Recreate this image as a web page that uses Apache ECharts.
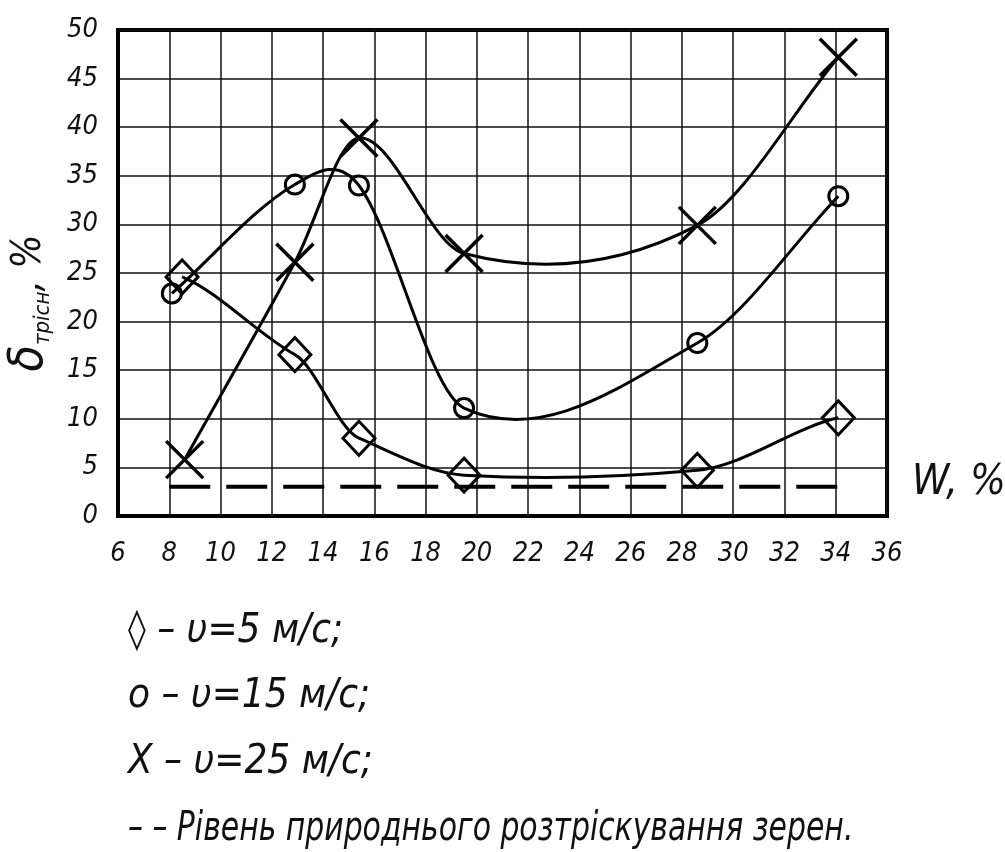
<!DOCTYPE html>
<html><head><meta charset="utf-8">
<script src="https://cdn.jsdelivr.net/npm/echarts@6/dist/echarts.min.js"></script>
<style>html,body{margin:0;padding:0;background:#fff}#c{width:1005px;height:852px}</style>
</head><body><div id="c"></div>
<script>
const FONT = "'DejaVu Sans Condensed','Liberation Sans Narrow','DejaVu Sans',sans-serif";
const xRange = [6, 36];
const xStep = 2;
const yRange = [0, 50];
const yStep = 5;
// v = 5 m/s (diamonds)
const v5W = [8.5, 12.9, 15.4, 19.5, 28.6, 34.1];
const v5D = [24.6, 16.6, 8.0, 4.2, 4.7, 10.1];
// v = 15 m/s (circles)
const v15W = [8.1, 12.9, 15.4, 19.5, 28.6, 34.1];
const v15D = [22.9, 34.1, 34.0, 11.1, 17.8, 32.9];
// v = 25 m/s (crosses)
const v25W = [8.6, 12.9, 15.4, 19.5, 28.6, 34.1];
const v25D = [5.8, 26.1, 38.9, 27.0, 29.9, 47.2];
// natural cracking level (dashed)
const natW = [8.0, 34.2];
const natD = [3, 3];
const legendLines = ['◊ – υ=5 м/с;', 'о – υ=15 м/с;', 'Х – υ=25 м/с;', '– – Рівень природнього розтріскування зерен.'];
const xAxisTitle = 'W, %';
const yAxisTitle = '{d|δ}{s|трісн}{c|, %}';

const pairs = (xs, ys) => xs.map((x, i) => [x, ys[i]]);
const chart = echarts.init(document.getElementById('c'), null, {renderer: 'canvas'});

// smooth curve through the data points (rendered from pixel coords given by the axes)
function curveSeries(xs, ys, tension) {
  const data = pairs(xs, ys);
  return {
    type: 'custom', animation: false, silent: true, z: 3,
    data: data, encode: {x: 0, y: 1},
    renderItem: function (params, api) {
      if (params.dataIndex !== 0) return null;
      const P = data.map(d => api.coord(d));
      const n = P.length;
      const slope = (i) => {
        const a = P[Math.max(0, i - 1)], b = P[Math.min(n - 1, i + 1)];
        return (b[1] - a[1]) / (b[0] - a[0]);
      };
      let d = 'M' + P[0][0] + ',' + P[0][1];
      for (let i = 0; i < n - 1; i++) {
        const h = P[i + 1][0] - P[i][0];
        const m0 = slope(i) * tension, m1 = slope(i + 1) * tension;
        const c1 = [P[i][0] + h / 3, P[i][1] + m0 * h / 3];
        const c2 = [P[i + 1][0] - h / 3, P[i + 1][1] - m1 * h / 3];
        d += ' C' + c1[0] + ',' + c1[1] + ' ' + c2[0] + ',' + c2[1] + ' ' + P[i + 1][0] + ',' + P[i + 1][1];
      }
      return {type: 'path', shape: {pathData: d}, style: {stroke: '#000', lineWidth: 3, fill: null}};
    }
  };
}
function markerSeries(xs, ys, symbol, size, bw) {
  return {
    type: 'scatter', animation: false, silent: true, z: 4,
    data: pairs(xs, ys), symbol: symbol, symbolSize: size,
    itemStyle: {color: 'rgba(0,0,0,0)', borderColor: '#000', borderWidth: bw, opacity: 1}
  };
}
const legendY = [632, 697, 763, 830];
const legendScale = [1, 1, 1, 0.83];
const txt = {fontFamily: FONT, fontStyle: 'italic', fill: '#111'};

chart.setOption({
  backgroundColor: '#fff',
  animation: false,
  grid: {left: 118, right: 118, top: 30, bottom: 336, show: true, borderColor: '#000', borderWidth: 4, containLabel: false},
  xAxis: {
    type: 'value', min: xRange[0], max: xRange[1], interval: xStep,
    axisLine: {show: true, onZero: false, lineStyle: {color: '#000', width: 4}},
    axisTick: {show: false},
    splitLine: {show: true, lineStyle: {color: '#111', width: 1.5}},
    axisLabel: {margin: 24, color: '#111', fontFamily: FONT, fontStyle: 'italic', fontSize: 27}
  },
  yAxis: {
    type: 'value', min: yRange[0], max: yRange[1], interval: yStep,
    axisLine: {show: true, lineStyle: {color: '#000', width: 4}},
    axisTick: {show: false},
    splitLine: {show: true, lineStyle: {color: '#111', width: 1.5}},
    axisLabel: {margin: 20, color: '#111', fontFamily: FONT, fontStyle: 'italic', fontSize: 27}
  },
  series: [
    curveSeries(v5W, v5D, 0.6),
    curveSeries(v15W, v15D, 1.0),
    curveSeries(v25W, v25D, 1.0),
    markerSeries(v5W, v5D, 'diamond', [32, 34], 3),
    markerSeries(v15W, v15D, 'circle', 19, 3),
    markerSeries(v25W, v25D, 'path://M0,0L20,20M20,0L0,20', 37, 3.5),
    {type: 'line', data: pairs(natW, natD), smooth: false, showSymbol: false, symbol: 'none', animation: false, silent: true,
     lineStyle: {color: '#000', width: 4, type: [41, 16]}, z: 2}
  ],
  graphic: [
    {type: 'text', x: 912, y: 483, style: Object.assign({text: xAxisTitle, fontSize: 42, verticalAlign: 'middle', align: 'left'}, txt)},
    {type: 'text', x: 30, y: 303, rotation: Math.PI / 2,
     style: Object.assign({text: yAxisTitle, align: 'center', verticalAlign: 'middle',
       rich: {
         d: {fontSize: 48, fontFamily: FONT, fontStyle: 'italic', fill: '#111'},
         s: {fontSize: 22, fontFamily: FONT, fontStyle: 'italic', fill: '#111', verticalAlign: 'bottom', padding: [16, 0, 0, 0]},
         c: {fontSize: 40, fontFamily: FONT, fontStyle: 'italic', fill: '#111'}
       }}, txt)}
  ].concat(legendLines.map((t, i) => ({
    type: 'text', x: 128, y: legendY[i], scaleX: legendScale[i],
    style: Object.assign({text: t, fontSize: 40, verticalAlign: 'middle', align: 'left'}, txt)
  })))
});
</script></body></html>
